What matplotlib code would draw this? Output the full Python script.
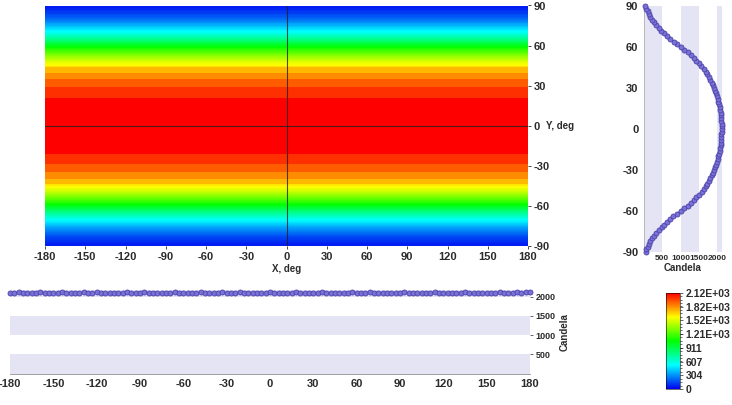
import numpy as np
import matplotlib
matplotlib.use("Agg")
import matplotlib.pyplot as plt
from matplotlib.colors import LinearSegmentedColormap, Normalize
from matplotlib.cm import ScalarMappable

plt.rcParams['font.family'] = ['Liberation Sans', 'DejaVu Sans']
plt.rcParams['font.weight'] = 'bold'
plt.rcParams['axes.unicode_minus'] = False

# ---- data ----
# vertical profile (Y angle, deg) at x = 0
y_angles = list(range(-90, 91, 2))
y_profile = [42, 63, 97, 128, 170, 223, 274, 340, 402, 478, 548, 628, 718, 805, 903,
             998, 1100, 1188, 1277, 1352, 1432, 1503, 1574, 1628, 1685, 1728, 1775, 1810, 1849, 1878,
             1912, 1935, 1964, 1985, 2012, 2028, 2052, 2064, 2081, 2090, 2101, 2107, 2114, 2116, 2119,
             2120,
             2118, 2117, 2112, 2109, 2099, 2093, 2079, 2067, 2048, 2031, 2008, 1988, 1960, 1938, 1908,
             1882, 1845, 1814, 1770, 1732, 1681, 1632, 1570, 1507, 1428, 1357, 1272, 1192, 1095, 1002,
             907, 806, 717, 628, 552, 473, 407, 336, 278, 218, 174, 128, 96, 63, 38]

# horizontal profile (X angle, deg) at y = 0
x_angles = list(range(-180, 181, 3))
x_profile = [2104, 2101, 2106, 2103, 2099, 2105, 2102, 2107, 2100, 2104, 2103, 2098, 2106, 2102, 2105,
             2101, 2104, 2108, 2100, 2103, 2106, 2101, 2104, 2099, 2105, 2103, 2102, 2107, 2101, 2104,
             2100, 2106, 2103, 2101, 2105, 2099, 2104, 2102, 2107, 2103, 2100, 2105, 2101, 2104, 2106,
             2102, 2099, 2105, 2103, 2108, 2101, 2104, 2100, 2106, 2102, 2103, 2105, 2099, 2104, 2101,
             2106, 2103, 2100, 2105, 2102, 2104, 2107, 2101, 2103, 2099, 2105, 2102, 2106, 2100, 2104,
             2103, 2101, 2105, 2102, 2107, 2100, 2104, 2103, 2106, 2101, 2099, 2105, 2102, 2104, 2103,
             2100, 2106, 2101, 2105, 2102, 2104, 2099, 2103, 2107, 2101, 2104, 2102, 2105, 2100, 2103,
             2106, 2102, 2104, 2101, 2105, 2103, 2100, 2104, 2107, 2102, 2105, 2103, 2108, 2104, 2106,
             2109]

cbar_ticks = [0, 304, 607, 911, 1210, 1520, 1820, 2120]
cbar_labels = ['0', '304', '607', '911', '1.21E+03', '1.52E+03', '1.82E+03', '2.12E+03']
x_ticks = list(range(-180, 181, 30))
y_ticks = list(range(-90, 91, 30))
cd_ticks = [500, 1000, 1500, 2000]

# ---- style ----
W, H = 732, 405
fig = plt.figure(figsize=(W / 100, H / 100), dpi=100)
txt = '#2b2b2b'
band = '#e4e4f4'
mface = '#7b72d8'
medge = '#4b42a8'
cmap = LinearSegmentedColormap.from_list(
    'rb', [(0, '#0000f0'), (0.25, '#00ffff'), (0.5, '#00ff00'), (0.75, '#ffff00'), (1.0, '#ff0000')])
vmax = 2120
norm = Normalize(0, vmax)


def ax_at(l, t, r, b):
    return fig.add_axes([l / W, 1 - b / H, (r - l) / W, (b - t) / H])


# main map
ax = ax_at(45, 5.5, 528, 246)
X, Y = np.meshgrid(np.array(x_angles, float), np.array(y_angles, float))
Z = np.tile(np.array(y_profile, float)[:, None], (1, len(x_angles)))
levels = np.concatenate([np.arange(0, 1640, 20), np.arange(1640, 2100, 95), [2200]])
band_colors = [cmap(min(hi, vmax) / vmax) for hi in levels[1:]]
ax.contourf(X, Y, Z, levels=levels, colors=band_colors, antialiased=False)
ax.axvline(0, color='#202020', lw=0.8, alpha=0.8)
ax.axhline(0, color='#202020', lw=0.8, alpha=0.8)
ax.set_xlim(-180, 180)
ax.set_ylim(-90, 90)
ax.set_xticks(x_ticks)
ax.set_yticks(y_ticks)
ax.yaxis.tick_right()
ax.tick_params(labelsize=8, colors=txt, length=2, width=0.6, pad=2)
for s in ax.spines.values():
    s.set_visible(False)
ax.text(0.5, -0.075, 'X, deg', transform=ax.transAxes, ha='center', va='top',
        fontsize=7, color=txt, fontweight='bold')
ax.text(1.037, 0.5, 'Y, deg', transform=ax.transAxes, ha='left', va='center',
        fontsize=7, color=txt, fontweight='bold')

# right vertical profile
axr = ax_at(644, 6, 722, 252)
axr.set_xlim(0, 2130)
axr.set_ylim(-90, 90)
for lo in (0, 1000, 2000):
    axr.axvspan(lo, lo + 500, color=band, lw=0, zorder=0)
axr.plot(y_profile, y_angles, '-', color=medge, lw=0.8, zorder=2)
axr.plot(y_profile, y_angles, 'o', ms=3.6, mfc=mface, mec=medge, mew=0.6, zorder=3, clip_on=False)
axr.set_yticks(y_ticks)
axr.set_xticks(cd_ticks)
axr.tick_params(axis='y', labelsize=8, colors=txt, length=0, pad=4)
axr.tick_params(axis='x', labelsize=6, colors=txt, length=0, pad=2)
for s in axr.spines.values():
    s.set_visible(False)
axr.spines['left'].set_visible(True)
axr.spines['left'].set_color('#b0b0b0')
axr.spines['left'].set_linewidth(0.6)
axr.set_xlabel('Candela', fontsize=7, color=txt, fontweight='bold', labelpad=1)

# bottom horizontal profile
axb = ax_at(10, 290, 530, 373.5)
axb.set_xlim(-180, 180)
axb.set_ylim(0, 2170)
for lo in (0, 1000, 2000):
    axb.axhspan(lo, lo + 500, color=band, lw=0, zorder=0)
axb.plot(x_angles, x_profile, '-', color=medge, lw=0.8, zorder=2)
axb.plot(x_angles, x_profile, 'o', ms=3.6, mfc=mface, mec=medge, mew=0.6, zorder=3, clip_on=False)
axb.set_xticks(x_ticks)
axb.set_yticks(cd_ticks)
axb.yaxis.tick_right()
axb.yaxis.set_label_position('right')
axb.tick_params(axis='x', labelsize=8, colors=txt, length=0, pad=4)
axb.tick_params(axis='y', labelsize=6.5, colors=txt, length=2, width=0.5, pad=2)
for s in axb.spines.values():
    s.set_visible(False)
axb.spines['bottom'].set_visible(True)
axb.spines['bottom'].set_color('#909090')
axb.spines['bottom'].set_linewidth(0.6)
axb.set_ylabel('Candela', fontsize=7, color=txt, fontweight='bold', labelpad=3)

# colorbar
cax = ax_at(666, 293, 680, 389)
cb = fig.colorbar(ScalarMappable(norm=norm, cmap=cmap), cax=cax)
cb.set_ticks(cbar_ticks)
cb.set_ticklabels(cbar_labels)
cb.ax.tick_params(labelsize=7.5, colors=txt, length=2, width=0.5, pad=2)
cb.ax.minorticks_on()
cb.ax.tick_params(which='minor', length=1.2, width=0.4)
cb.outline.set_linewidth(0.4)
for lab in cb.ax.get_yticklabels():
    lab.set_fontweight('bold')

fig.savefig('out.png', dpi=100, facecolor='white')
